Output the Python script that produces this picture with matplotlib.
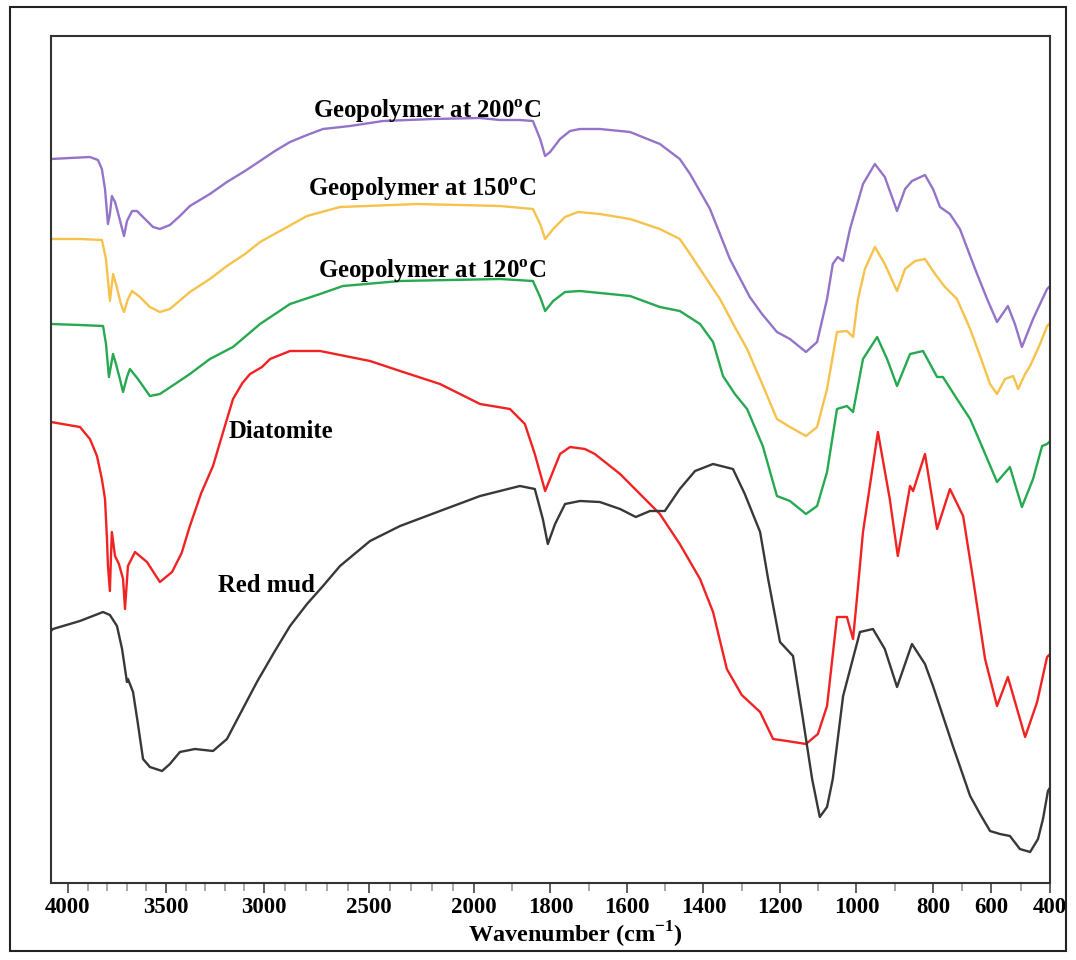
import numpy as np
import matplotlib
matplotlib.use("Agg")
import matplotlib.pyplot as plt
from matplotlib.patches import Rectangle

plt.rcParams['font.family'] = ['Liberation Serif', 'DejaVu Serif']
plt.rcParams['font.weight'] = 'bold'
plt.rcParams['mathtext.fontset'] = 'custom'
plt.rcParams['mathtext.rm'] = 'Liberation Serif:bold'
plt.rcParams['mathtext.bf'] = 'Liberation Serif:bold'

"""FTIR spectra (wavenumber in cm-1, offset transmittance in a.u.)"""
wn_200 = [4087, 3990, 3888, 3847, 3827, 3811, 3796, 3786, 3776, 3760, 3750, 3730, 3714, 3699, 3673,
          3648, 3607, 3566, 3531, 3480, 3429, 3378, 3276, 3189, 3097, 3020, 2948, 2876, 2795, 2719,
          2590, 2433, 2195, 1984, 1932, 1880, 1846, 1827, 1814, 1801, 1775, 1749, 1723, 1671, 1592,
          1514, 1462, 1435, 1383, 1331, 1279, 1247, 1208, 1174, 1132, 1103, 1077, 1062, 1049, 1035,
          1017, 983, 952, 926, 894, 873, 855, 821, 800, 776, 742, 708, 656, 615, 581, 544, 520, 496,
          458, 434, 410, 403]
t_200 = [724, 725, 726, 723, 714, 694, 659, 669, 687, 681, 674, 659, 647, 662, 672,
         672, 664, 656, 654, 658, 667, 677, 689, 701, 712, 722, 732, 741, 748, 754,
         757, 762, 764, 765, 763, 763, 762, 744, 727, 731, 744, 752, 754, 754, 751,
         739, 724, 709, 674, 624, 586, 569, 551, 544, 531, 541, 584, 619, 626, 622,
         654, 699, 719, 706, 672, 694, 702, 708, 694, 676, 669, 654, 614, 584, 561, 577, 559, 536,
         564, 579, 594, 596]

wn_150 = [4087, 3939, 3827, 3806, 3786, 3770, 3755, 3745, 3730, 3714, 3694, 3673, 3633, 3582, 3531,
          3480, 3378, 3276, 3189, 3097, 3020, 2924, 2795, 2638, 2510, 2271, 2067, 1932, 1846, 1827,
          1814, 1793, 1762, 1728, 1671, 1592, 1514, 1462, 1435, 1409, 1383, 1357, 1318, 1286, 1252,
          1208, 1174, 1132, 1103, 1077, 1051, 1025, 1009, 996, 978, 952, 926, 894, 873, 847, 821,
          793, 759, 718, 673, 639, 605, 581, 554, 526, 509, 485, 468, 434, 410, 403]
t_150 = [644, 644, 643, 624, 582, 609, 599, 591, 579, 571, 584, 592, 586, 576, 571,
         574, 591, 604, 617, 629, 641, 652, 667, 676, 677, 679, 678, 677, 674, 659,
         644, 654, 666, 671, 669, 664, 654, 644, 629, 614, 599, 584, 556, 534, 504,
         464, 456, 447, 456, 494, 551, 552, 546, 584, 614, 636, 619, 592, 614, 622, 624,
         609, 596, 584, 554, 527, 499, 489, 504, 507, 494, 509, 517, 539, 557, 559]

wn_120 = [4087, 3939, 3821, 3806, 3791, 3770, 3755, 3735, 3719, 3699, 3684, 3643, 3582, 3531, 3454,
          3378, 3276, 3158, 3020, 2876, 2733, 2624, 2352, 1932, 1846, 1827, 1814, 1793, 1762, 1723,
          1592, 1514, 1462, 1409, 1375, 1349, 1318, 1286, 1245, 1208, 1174, 1132, 1103, 1077, 1051,
          1025, 1009, 983, 946, 920, 894, 860, 826, 786, 766, 718, 673, 639, 581, 537, 496, 458,
          427, 410, 403]
t_120 = [559, 558, 557, 539, 506, 529, 519, 504, 491, 506, 514, 504, 487, 489, 499,
         509, 524, 536, 559, 579, 589, 597, 602, 604, 602, 586, 572, 582, 591, 592,
         587, 576, 572, 559, 541, 507, 489, 474, 437, 387, 382, 369, 377, 411, 474,
         477, 471, 524, 546, 524, 497, 529, 532, 506, 506, 484, 464, 441, 401, 416, 376, 404,
         437, 439, 441]

wn_dia = [4087, 3939, 3888, 3852, 3827, 3811, 3801, 3796, 3786, 3781, 3776, 3760, 3740, 3719, 3709,
          3694, 3658, 3597, 3531, 3469, 3420, 3378, 3320, 3260, 3210, 3158, 3110, 3071, 3010, 2971,
          2876, 2733, 2495, 2352, 2162, 1984, 1906, 1867, 1841, 1814, 1796, 1775, 1749, 1710, 1684,
          1618, 1514, 1462, 1409, 1375, 1339, 1300, 1252, 1218, 1182, 1132, 1101, 1077, 1051, 1025,
          1009, 999, 983, 944, 913, 892, 860, 852, 821, 786, 742, 697, 663, 622, 581, 544, 485, 444,
          410, 403]
t_dia = [461, 456, 444, 427, 404, 384, 344, 317, 292, 324, 351, 327, 319, 304, 274,
         317, 331, 321, 301, 311, 330, 357, 390, 417, 450, 484, 500, 509, 516, 524,
         532, 532, 522, 512, 499, 479, 474, 459, 429, 392, 409, 429, 436, 434, 429,
         409, 369, 339, 304, 271, 214, 188, 171, 144, 142, 139, 149, 177, 266, 266,
         244, 284, 351, 451, 384, 327, 397, 392, 429, 354, 394, 367, 304, 224, 177, 206, 146, 181,
         226, 228]

wn_mud = [4087, 4077, 3939, 3821, 3786, 3750, 3724, 3699, 3694, 3684, 3668, 3643, 3617, 3582, 3551,
          3520, 3480, 3429, 3352, 3260, 3189, 3122, 3036, 2948, 2876, 2795, 2719, 2638, 2495, 2352,
          2162, 1984, 1932, 1880, 1841, 1820, 1807, 1788, 1762, 1723, 1671, 1618, 1577, 1540, 1501,
          1462, 1422, 1375, 1323, 1292, 1252, 1231, 1200, 1166, 1140, 1116, 1096, 1077, 1062, 1035,
          991, 957, 926, 894, 855, 821, 800, 732, 673, 639, 605, 571, 537, 503, 468, 441, 424, 407, 403]
t_mud = [252, 254, 262, 271, 268, 257, 234, 201, 204, 199, 191, 159, 124, 116, 114,
         112, 119, 131, 134, 132, 144, 169, 201, 232, 257, 279, 297, 317, 342, 357,
         372, 387, 392, 397, 394, 364, 339, 359, 379, 382, 381, 374, 366, 372, 372,
         394, 412, 419, 414, 389, 351, 304, 241, 227, 164, 104, 66, 76, 104, 187,
         251, 254, 234, 196, 239, 219, 197, 137, 87, 69, 52, 49, 47, 34, 31, 44, 64, 92, 94]

samples = ["Geopolymer at 200$^{\\mathbf{o}}$C", "Geopolymer at 150$^{\\mathbf{o}}$C",
           "Geopolymer at 120$^{\\mathbf{o}}$C", "Diatomite", "Red mud"]
tick_major = [4000, 3500, 3000, 2500, 2000, 1800, 1600, 1400, 1200, 1000, 800, 600, 400]

"""Piecewise axis like the original plot (expanded below 2000 cm-1)"""
scale_wn = np.array([400, 800, 2000, 3000, 4000, 4200])
scale_pos = -np.array([1050, 933, 474, 264, 68, 29], dtype=float)

def fwd(w):
    return np.interp(w, scale_wn, scale_pos)

def inv(p):
    return np.interp(p, scale_pos, scale_wn)

fig = plt.figure(figsize=(10.76, 9.6), dpi=100)
ax = fig.add_axes([51 / 1076, 1 - 883 / 960, 999 / 1076, 847 / 960])
ax.set_xscale('function', functions=(fwd, inv))

series = [(wn_200, t_200, "#9474c8"), (wn_150, t_150, "#f7c24c"), (wn_120, t_120, "#26a950"),
          (wn_dia, t_dia, "#f22222"), (wn_mud, t_mud, "#383838")]
for w, t, c in series:
    ax.plot(w, t, c=c, lw=1.7, solid_joinstyle='round')

lab_pos = [(2767, 772), (2790, 694), (2743, 612), (3179, 452), (3235, 298)]
for s, (x, y) in zip(samples, lab_pos):
    ax.text(x, y, s, fontsize=17.8, fontweight='bold', ha='left', va='center')

ax.set_xlim(4087, 400)
ax.set_ylim(0, 847)
ax.set_xticks(tick_major)
ax.set_xticks([w for w in range(400, 4001, 100) if w not in tick_major], minor=True)
ax.tick_params(axis='x', which='major', direction='out', length=7, width=1.2, color='#444444',
               labelsize=16.5, pad=3)
ax.tick_params(axis='x', which='minor', direction='out', length=6, width=1.2, color='#999999')
ax.tick_params(axis='y', left=False, labelleft=False)
for lab in ax.get_xticklabels():
    lab.set_fontweight('bold')
for sp in ax.spines.values():
    sp.set_linewidth(1.5)
    sp.set_color('#333333')

ax.set_xlabel("Wavenumber (cm$^{\\mathbf{-1}}$)", fontsize=17.5, fontweight='bold')
ax.xaxis.set_label_coords((575 - 51) / 999, -0.043)

fig.add_artist(Rectangle((10 / 1076, 1 - 951 / 960), 1056 / 1076, 944 / 960, fill=False,
                         transform=fig.transFigure, lw=1.5, ec='#222222'))

plt.savefig("out.png", dpi=100)
